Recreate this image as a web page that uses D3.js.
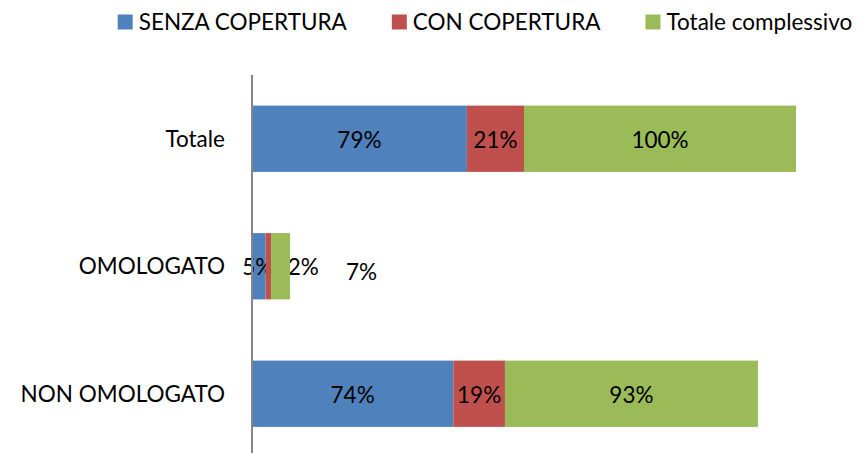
<!DOCTYPE html>
<html>
<head>
<meta charset="utf-8">
<script src="https://cdn.jsdelivr.net/npm/d3@7"></script>
<style>
  body { margin: 0; background: #fff; }
  svg { display: block; }
  text { font-family: Lato, "Open Sans", sans-serif; fill: #000; }
</style>
</head>
<body>
<svg id="chart" width="865" height="453"></svg>
<script>
// Categories (top to bottom) and the three stacked series, in percent
const categories = ["Totale", "OMOLOGATO", "NON OMOLOGATO"];
const seriesNames = ["SENZA COPERTURA", "CON COPERTURA", "Totale complessivo"];
const senzaCopertura = [79, 5, 74];
const conCopertura = [21, 2, 19];
const totaleComplessivo = [100, 7, 93];
const seriesColors = ["#4F81BD", "#C0504D", "#9BBB59"];

const rows = categories.map((c, i) => ({
  category: c,
  [seriesNames[0]]: senzaCopertura[i],
  [seriesNames[1]]: conCopertura[i],
  [seriesNames[2]]: totaleComplessivo[i]
}));

const stacked = d3.stack().keys(seriesNames)(rows);

const svg = d3.select("#chart");
const fontSize = 22.5;

const plot = { left: 252, top: 75, bottom: 457.5 };

const x = d3.scaleLinear()
  .domain([0, d3.max(stacked[stacked.length - 1], d => d[1])])
  .range([plot.left, 796]);

const y = d3.scaleBand()
  .domain(categories)
  .range([plot.top, plot.bottom])
  .paddingInner(0.48)
  .paddingOuter(0.24);

const color = d3.scaleOrdinal().domain(seriesNames).range(seriesColors);

// Stacked bar segments
const layers = svg.append("g").selectAll("g")
  .data(stacked)
  .join("g")
  .attr("fill", d => color(d.key));

layers.selectAll("rect")
  .data(d => d)
  .join("rect")
  .attr("x", d => x(d[0]))
  .attr("y", d => y(d.data.category))
  .attr("width", d => x(d[1]) - x(d[0]))
  .attr("height", y.bandwidth());

// Small segments cannot hold their labels; those labels are moved aside
const labelShift = {
  "OMOLOGATO": [[-1, 0], [35, 0], [81, 5]]
};

layers.each(function (layer, si) {
  d3.select(this).selectAll("text")
    .data(layer)
    .join("text")
    .attr("x", d => {
      const s = labelShift[d.data.category];
      return (x(d[0]) + x(d[1])) / 2 + (s ? s[si][0] : 0);
    })
    .attr("y", d => {
      const s = labelShift[d.data.category];
      return y(d.data.category) + y.bandwidth() / 2 + 1 + (s ? s[si][1] : 0);
    })
    .attr("dy", "0.35em")
    .attr("text-anchor", "middle")
    .attr("font-size", fontSize)
    .text(d => (d[1] - d[0]) + "%");
});

// Category axis (no ticks, grey line)
const yAxis = d3.axisLeft(y).tickSize(0).tickPadding(27);
const gy = svg.append("g")
  .attr("transform", `translate(${plot.left},0)`)
  .call(yAxis);
gy.select(".domain").remove();
gy.selectAll("text")
  .attr("font-size", fontSize)
  .attr("font-family", "Lato, 'Open Sans', sans-serif")
  .attr("fill", "#000")
  .attr("dy", "0.35em");

svg.append("line")
  .attr("x1", plot.left).attr("x2", plot.left)
  .attr("y1", plot.top).attr("y2", 460)
  .attr("stroke", "#868686")
  .attr("stroke-width", 2);

// Legend across the top, centred
const legend = svg.append("g");
const sw = 15, swGap = 6, itemGap = 45;
let lx = 0;
seriesNames.forEach((name, i) => {
  const g = legend.append("g").attr("transform", `translate(${lx},0)`);
  g.append("rect")
    .attr("x", 0).attr("y", 14.5)
    .attr("width", sw).attr("height", sw)
    .attr("fill", seriesColors[i]);
  const t = g.append("text")
    .attr("x", sw + swGap).attr("y", 30)
    .attr("font-size", fontSize)
    .text(name);
  lx += sw + swGap + t.node().getComputedTextLength() + itemGap;
});
const legendWidth = lx - itemGap;
legend.attr("transform", `translate(${485 - legendWidth / 2},0)`);
</script>
</body>
</html>
